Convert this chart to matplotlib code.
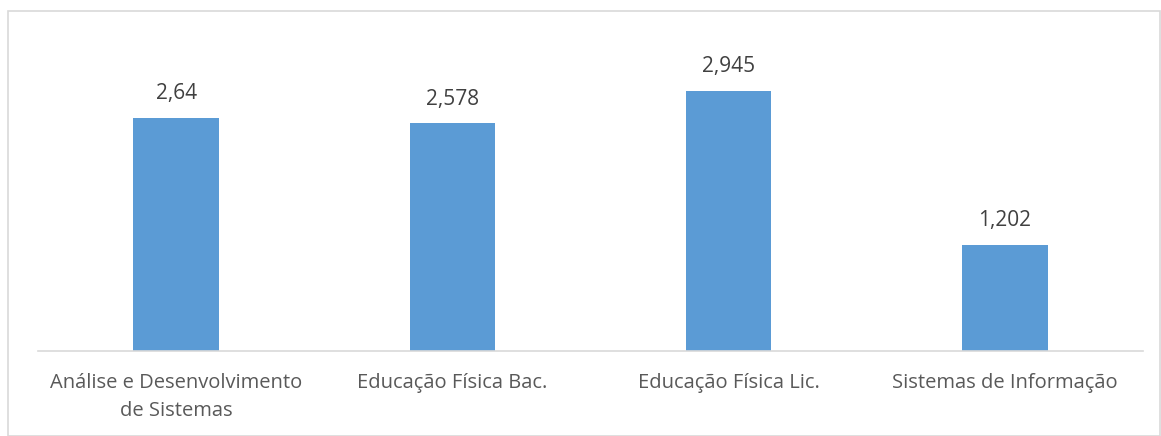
import matplotlib.pyplot as plt
from matplotlib.patches import Rectangle

categories = ['Análise e Desenvolvimento\nde Sistemas', 'Educação Física Bac.',
              'Educação Física Lic.', 'Sistemas de Informação']
values = [2.64, 2.578, 2.945, 1.202]
value_labels = ['2,64', '2,578', '2,945', '1,202']

W, H = 1161, 436
fig = plt.figure(figsize=(W / 100, H / 100), dpi=100)
plt.rcParams['font.family'] = ['Open Sans', 'DejaVu Sans']

# chart frame
fig.patches.append(Rectangle((8 / W, 0), (W - 9) / W, (H - 11) / H, transform=fig.transFigure,
                             fill=False, edgecolor='#D9D9D9', linewidth=1.2))

ax = fig.add_axes([38 / W, (H - 351) / H, (1143 - 38) / W, 309 / H])
x = range(len(categories))
bars = ax.bar(x, values, width=0.31, color='#5B9BD5')
ax.set_ylim(0, 3.5)
ax.set_xlim(-0.5, len(categories) - 0.5)

for xi, v, lab in zip(x, values, value_labels):
    ax.annotate(lab, (xi, v), xytext=(0, 10), textcoords='offset points',
                ha='center', va='bottom', fontsize=15, color='#404040')

ax.set_xticks(list(x))
ax.set_xticklabels(categories, fontsize=14.5, color='#595959', linespacing=1.5)
ax.tick_params(axis='x', length=0, pad=16)
ax.set_yticks([])
for s in ['top', 'right', 'left']:
    ax.spines[s].set_visible(False)
ax.spines['bottom'].set_color('#D9D9D9')
ax.spines['bottom'].set_linewidth(1.2)

fig.savefig('out.png', dpi=100)
